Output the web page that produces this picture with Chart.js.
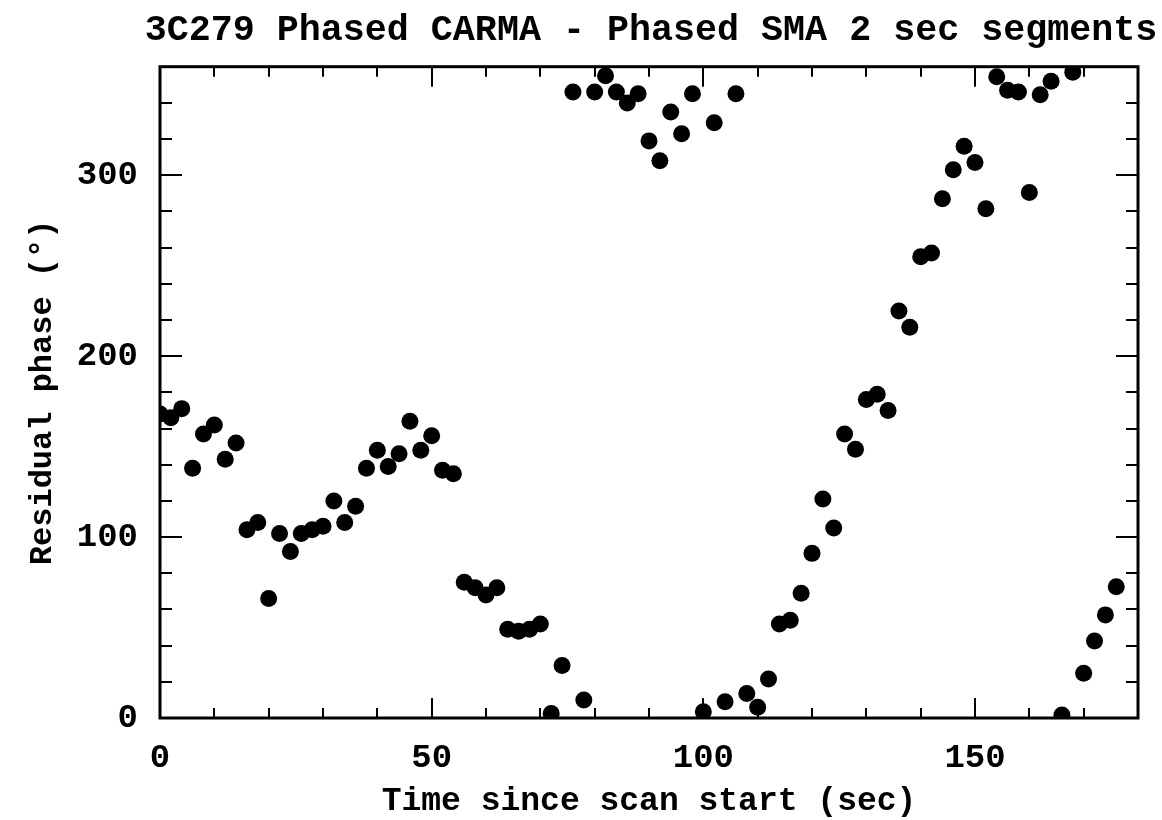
<!DOCTYPE html>
<html>
<head>
<meta charset="utf-8">
<script src="https://cdn.jsdelivr.net/npm/chart.js@4.4.1/dist/chart.umd.min.js"></script>
<style>
  html, body { margin: 0; padding: 0; background: #ffffff; }
  #wrap { width: 1162px; height: 820px; }
  canvas { display: block; }
</style>
</head>
<body>
<div id="wrap"><canvas id="c" width="1162" height="820"></canvas></div>
<script>
// ---------------- data ----------------
const chartTitle = '3C279 Phased CARMA - Phased SMA 2 sec segments';
const xAxisTitle = 'Time since scan start (sec)';
const yAxisTitle = 'Residual phase (\u00B0)';

const timeSec = [
  0, 2, 4, 6, 8, 10, 12, 14, 16, 18,
  20, 22, 24, 26, 28, 30, 32, 34, 36, 38,
  40, 42, 44, 46, 48, 50, 52, 54, 56, 58,
  60, 62, 64, 66, 68, 70, 72, 74, 76, 78,
  80, 82, 84, 86, 88, 90, 92, 94, 96, 98,
  100, 102, 104, 106, 108, 110, 112, 114, 116, 118,
  120, 122, 124, 126, 128, 130, 132, 134, 136, 138,
  140, 142, 144, 146, 148, 150, 152, 154, 156, 158,
  160, 162, 164, 166, 168, 170, 172, 174, 176
];

const residualPhase = [
  168, 166, 171, 138, 157, 162, 143, 152, 104, 108,
  66, 102, 92, 102, 104, 106, 120, 108, 117, 138,
  148, 139, 146, 164, 148, 156, 137, 135, 75, 72,
  68, 72, 49, 48, 49, 52, 2.5, 29, 346, 10,
  346, 355, 346, 340, 345, 319, 308, 335, 323, 345,
  3.5, 329, 9, 345, 13.5, 6, 21.5, 52, 54, 69,
  91, 121, 105, 157, 148.5, 176, 179, 170, 225, 216,
  255, 257, 287, 303, 316, 307, 281.5, 354.5, 347, 346,
  290.5, 344.5, 352, 1.7, 357, 24.7, 42.6, 57, 72.6
];

const xLimits = [0, 180];
const yLimits = [0, 360];
const xMajorTicks = [0, 50, 100, 150];
const yMajorTicks = [0, 100, 200, 300];
const xMinorStep = 10;
const yMinorStep = 20;

// ---------------- chart ----------------
const FONT = "'Liberation Mono', 'DejaVu Sans Mono', monospace";

const points = timeSec.map((t, i) => ({ x: t, y: residualPhase[i] }));

const framePlugin = {
  id: 'frameTicks',
  afterDatasetsDraw(chart) {
    const { ctx, chartArea: a, scales: { x, y } } = chart;
    ctx.save();
    ctx.strokeStyle = '#000';
    ctx.lineCap = 'butt';
    ctx.lineWidth = 2;
    const seg = (x1, y1, x2, y2) => { ctx.beginPath(); ctx.moveTo(x1, y1); ctx.lineTo(x2, y2); ctx.stroke(); };
    for (let v = xLimits[0]; v <= xLimits[1] + 1e-9; v += xMinorStep) {
      const px = Math.round(x.getPixelForValue(v));
      const len = xMajorTicks.includes(v) ? 20 : 10;
      seg(px, a.bottom, px, a.bottom - len);
      seg(px, a.top, px, a.top + len);
    }
    for (let v = yLimits[0]; v <= yLimits[1] + 1e-9; v += yMinorStep) {
      const py = Math.round(y.getPixelForValue(v));
      const len = yMajorTicks.includes(v) ? 22 : 12;
      seg(a.left, py, a.left + len, py);
      seg(a.right, py, a.right - len, py);
    }
    ctx.lineWidth = 3;
    ctx.strokeRect(a.left, a.top, a.right - a.left, a.bottom - a.top);

    // chart title, centred over the plot area (may extend past it, as in the original)
    ctx.fillStyle = '#000';
    ctx.font = "bold 36.7px " + FONT;
    ctx.textAlign = 'center';
    ctx.textBaseline = 'alphabetic';
    ctx.fillText(chartTitle, (a.left + a.right) / 2 + 2, 40);
    ctx.restore();
  }
};

new Chart(document.getElementById('c'), {
  type: 'scatter',
  data: {
    datasets: [{
      data: points,
      backgroundColor: '#000',
      borderColor: '#000',
      borderWidth: 0,
      pointRadius: 8.5,
      pointHoverRadius: 8.5,
      clip: 0
    }]
  },
  options: {
    responsive: false,
    animation: false,
    devicePixelRatio: 1,
    events: [],
    layout: { padding: { left: 0, right: 24, top: 66.7, bottom: 0 } },
    plugins: {
      legend: { display: false },
      tooltip: { enabled: false },
      title: { display: false }
    },
    scales: {
      x: {
        type: 'linear',
        min: xLimits[0],
        max: xLimits[1],
        afterFit: (s) => { s.height = 102; },
        afterBuildTicks: (s) => { s.ticks = xMajorTicks.map(v => ({ value: v })); },
        grid: { display: false, drawTicks: false },
        border: { display: false },
        ticks: {
          color: '#000',
          padding: 20,
          maxRotation: 0,
          autoSkip: false,
          font: { family: FONT, size: 34, weight: 'bold' }
        },
        title: {
          display: true,
          text: xAxisTitle,
          color: '#000',
          font: { family: FONT, size: 33, weight: 'bold', lineHeight: 1.1 },
          padding: { top: 0, bottom: 0 }
        }
      },
      y: {
        type: 'linear',
        min: yLimits[0],
        max: yLimits[1],
        afterFit: (s) => { s.width = 160; },
        afterBuildTicks: (s) => { s.ticks = yMajorTicks.map(v => ({ value: v })); },
        grid: { display: false, drawTicks: false },
        border: { display: false },
        ticks: {
          color: '#000',
          padding: 22,
          autoSkip: false,
          font: { family: FONT, size: 34, weight: 'bold' }
        },
        title: {
          display: true,
          text: yAxisTitle,
          color: '#000',
          font: { family: FONT, size: 32, weight: 'bold', lineHeight: 1.2 },
          padding: { top: 24, bottom: 0 }
        }
      }
    }
  },
  plugins: [framePlugin]
});
</script>
</body>
</html>
